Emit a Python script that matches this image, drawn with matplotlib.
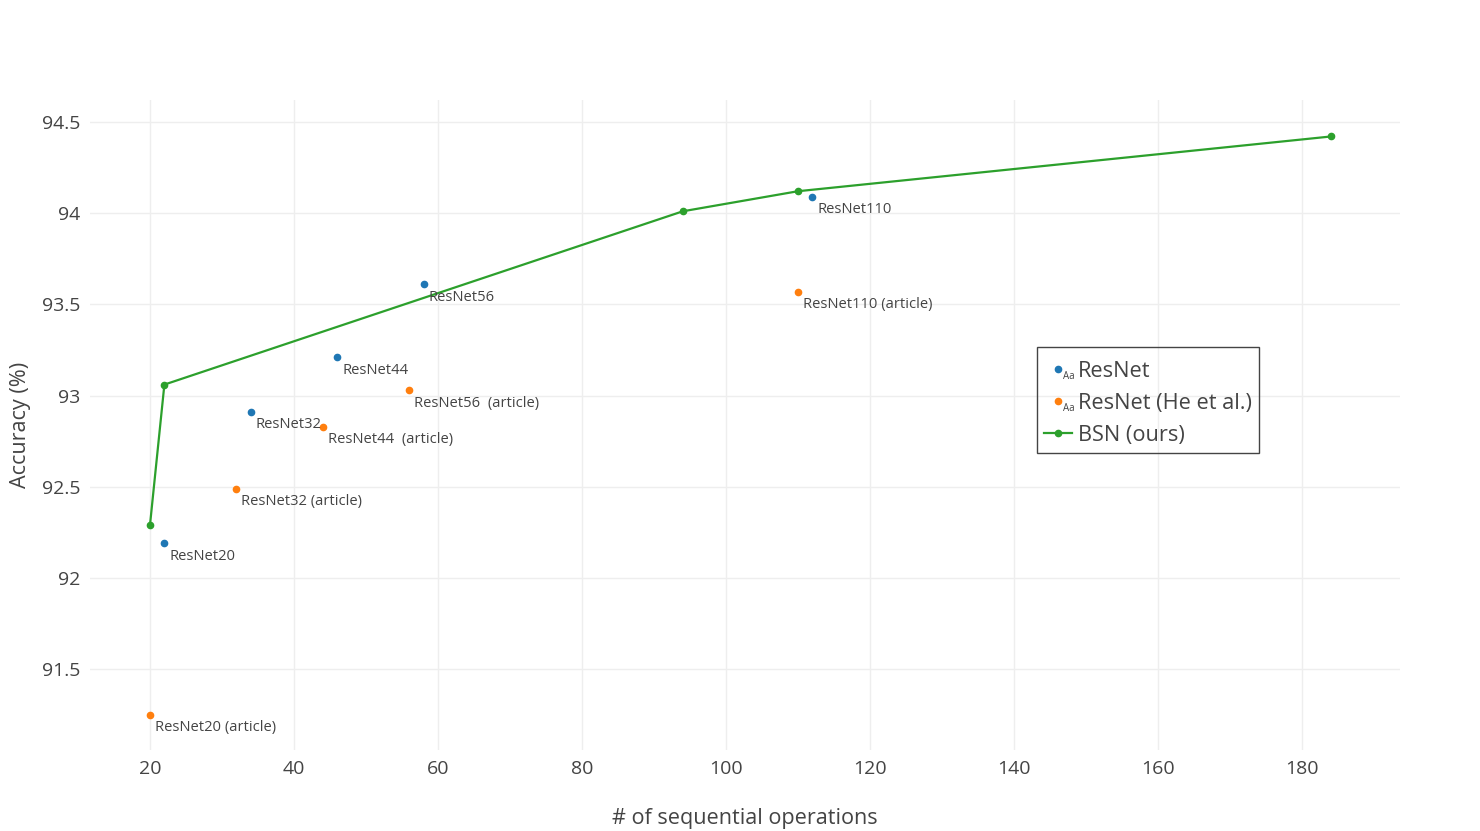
import matplotlib.pyplot as plt
from matplotlib.lines import Line2D
from matplotlib.patches import Rectangle

plt.rcParams['font.family'] = ['Open Sans', 'DejaVu Sans']

# data
resnet_ops = [22, 34, 46, 58, 112]
resnet_acc = [92.19, 92.91, 93.21, 93.61, 94.09]
resnet_txt = ["ResNet20", "ResNet32", "ResNet44", "ResNet56", "ResNet110"]

article_ops = [20, 32, 44, 56, 110]
article_acc = [91.25, 92.49, 92.83, 93.03, 93.57]
article_txt = ["ResNet20 (article)", "ResNet32 (article)", "ResNet44  (article)",
               "ResNet56  (article)", "ResNet110 (article)"]

bsn_ops = [20, 22, 94, 110, 184]
bsn_acc = [92.29, 93.06, 94.01, 94.12, 94.42]

BLUE, ORANGE, GREEN = "#1f77b4", "#ff7f0e", "#2ca02c"
TXT = "#444444"


def main():
    W, H = 1480, 831
    fig = plt.figure(figsize=(W / 100, H / 100), dpi=100)
    ax = fig.add_axes([90 / W, 1 - 750 / H, 1310 / W, 650 / H])

    ax.plot(resnet_ops, resnet_acc, 'o', color=BLUE, ms=4.5, zorder=3)
    ax.plot(article_ops, article_acc, 'o', color=ORANGE, ms=4.5, zorder=3)
    ax.plot(bsn_ops, bsn_acc, '-o', color=GREEN, ms=4.5, lw=1.6, zorder=3)

    for x, y, t in zip(resnet_ops + article_ops, resnet_acc + article_acc,
                       resnet_txt + article_txt):
        ax.annotate(t, (x, y), xytext=(5, -13), textcoords='offset pixels',
                    ha='left', va='center', fontsize=10.6, color=TXT, zorder=4)

    ax.set_xlim(11.67, 193.6)
    ax.set_ylim(91.057, 94.62)
    ax.set_xticks(range(20, 181, 20))
    ax.set_yticks([91.5, 92, 92.5, 93, 93.5, 94, 94.5])
    ax.set_yticklabels(["91.5", "92", "92.5", "93", "93.5", "94", "94.5"])
    ax.grid(True, color="#eeeeee", lw=1)
    ax.set_axisbelow(True)
    for s in ax.spines.values():
        s.set_visible(False)
    ax.tick_params(length=0, labelsize=14, colors=TXT, pad=7)
    ax.set_xlabel("# of sequential operations", fontsize=15.6, color=TXT, labelpad=22)
    ax.set_ylabel("Accuracy (%)", fontsize=15.6, color=TXT, labelpad=8)

    # legend drawn by hand, plotly style
    fig.add_artist(Rectangle((1037 / W, 1 - 453 / H), 222 / W, 106 / H,
                             transform=fig.transFigure, fill=False,
                             ec="#444444", lw=1))
    rows = [(369, BLUE, "ResNet", True), (401, ORANGE, "ResNet (He et al.)", True),
            (433, GREEN, "BSN (ours)", False)]
    for yp, c, label, aa in rows:
        yf = 1 - yp / H
        if aa:
            fig.add_artist(Line2D([1058 / W], [yf], marker='o', color=c, ms=4.5,
                                  transform=fig.transFigure))
            fig.text(1063 / W, 1 - (yp + 8) / H, "Aa", fontsize=7,
                     color=TXT, va='center', ha='left')
        else:
            fig.add_artist(Line2D([1044 / W, 1072 / W], [yf, yf], color=c, lw=1.6,
                                  transform=fig.transFigure))
            fig.add_artist(Line2D([1058 / W], [yf], marker='o', color=c, ms=4.5,
                                  transform=fig.transFigure))
        fig.text(1078 / W, 1 - (yp + 2) / H, label, fontsize=15.7, color=TXT,
                 va='center', ha='left')

    fig.savefig("out.png", dpi=100)


if __name__ == "__main__":
    main()
